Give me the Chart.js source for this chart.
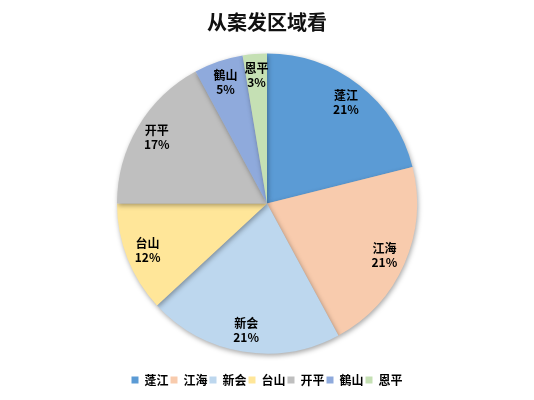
<!DOCTYPE html>
<html>
<head>
<meta charset="utf-8">
<script src="https://cdn.jsdelivr.net/npm/chart.js@4"></script>
<style>
  html, body { margin: 0; padding: 0; background: #fff; }
  #wrap { width: 534px; height: 400px; }
</style>
</head>
<body>
<div id="wrap"><canvas id="myChart"></canvas></div>
<script>
let labels = ['蓬江', '江海', '新会', '台山', '开平', '鶴山', '恩平'];
let shares = [21.1, 21.0, 21.0, 11.9, 17.1, 5.3, 2.6];
let colors = ['#5b9bd5', '#f8cbad', '#bdd7ee', '#ffe699', '#bfbfbf', '#8faadc', '#c5e0b4'];

const fontFamily = '"Noto Sans CJK SC", "Noto Sans", sans-serif';

// drop shadow under the pie, like the office chart
const shadowPlugin = {
    id: 'shadow',
    beforeDatasetDraw(chart) {
        let c = chart.ctx;
        c.save();
        c.shadowColor = 'rgba(0,0,0,0.35)';
        c.shadowBlur = 5;
        c.shadowOffsetX = 1;
        c.shadowOffsetY = 2;
    },
    afterDatasetDraw(chart) {
        chart.ctx.restore();
    }
};

// name + percent inside each slice
const sliceLabels = {
    id: 'sliceLabels',
    afterDatasetsDraw(chart) {
        let c = chart.ctx;
        let meta = chart.getDatasetMeta(0);
        let total = shares.reduce((a, b) => a + b, 0);
        c.save();
        c.fillStyle = '#000';
        c.textAlign = 'center';
        c.textBaseline = 'middle';
        c.font = 'bold 12px ' + fontFamily;
        meta.data.forEach((arc, i) => {
            let p = arc.getProps(['x', 'y', 'startAngle', 'endAngle', 'outerRadius']);
            let mid = (p.startAngle + p.endAngle) / 2;
            let r = p.outerRadius * 0.855;
            let x = p.x + Math.cos(mid) * r;
            let y = p.y + Math.sin(mid) * r;
            c.fillText(labels[i], x, y - 7);
            c.fillText(Math.round(shares[i] / total * 100) + '%', x, y + 7);
        });
        c.restore();
    }
};

let ctx = document.getElementById('myChart').getContext('2d');
let myChart = new Chart(ctx, {
    type: 'pie',
    data: {
        labels: labels,
        datasets: [{
            data: shares,
            backgroundColor: colors,
            borderWidth: 0,
            radius: 150
        }]
    },
    options: {
        responsive: true,
        maintainAspectRatio: false,
        animation: false,
        layout: {
            padding: { top: 0, bottom: 4 }
        },
        plugins: {
            title: {
                display: true,
                text: '从案发区域看',
                color: '#111',
                font: { family: fontFamily, size: 20, weight: 'bold' },
                padding: { top: 10, bottom: 1 }
            },
            legend: {
                position: 'bottom',
                labels: {
                    boxWidth: 7,
                    boxHeight: 7,
                    padding: 2,
                    color: '#000',
                    font: { family: fontFamily, size: 12, weight: 'bold' }
                }
            },
            tooltip: { enabled: false }
        }
    },
    plugins: [shadowPlugin, sliceLabels]
});
</script>
</body>
</html>
